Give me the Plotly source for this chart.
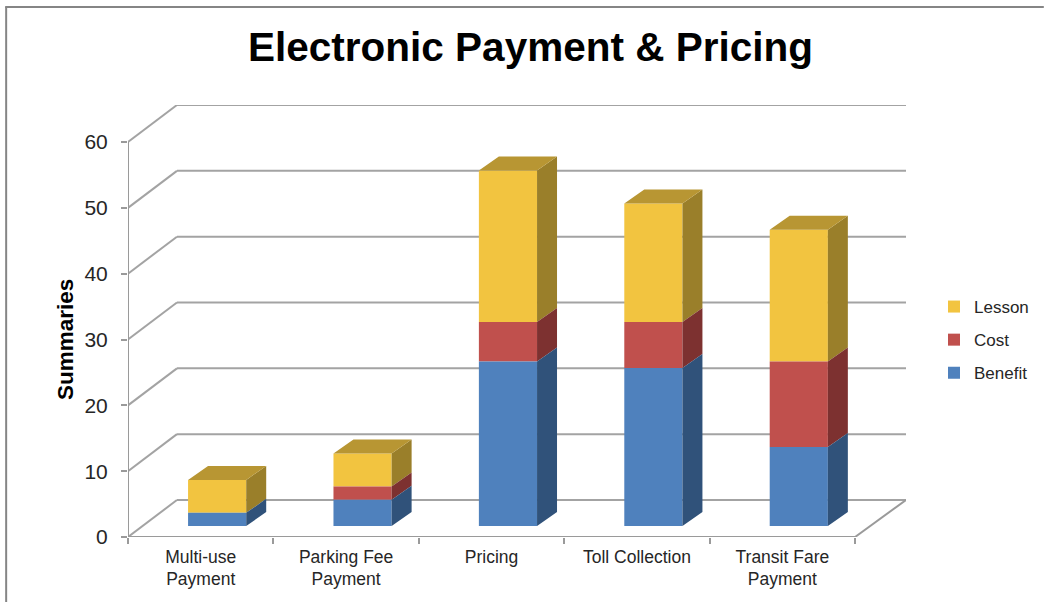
import plotly.graph_objects as go

categories = ["Multi-use<br>Payment", "Parking Fee<br>Payment", "Pricing", "Toll Collection", "Transit Fare<br>Payment"]
benefit = [2, 4, 25, 24, 12]
cost = [0, 2, 6, 7, 13]
lesson = [5, 5, 23, 18, 20]
y_ticks = [0, 10, 20, 30, 40, 50, 60]

FONT = "Liberation Sans, Arial, sans-serif"
W, H = 1045, 602
L, R, T, B = 128, 907, 105, 537       # plot box in page pixels
X_PX = 145.6                          # pixels per category
Y_PX = 6.583                          # pixels per value unit
x_max = (R - L) / X_PX
y_max = (B - T) / Y_PX

# oblique projection, in axis units
wall_dx, wall_dy = 49 / X_PX, 37 / Y_PX
bar_w = 0.4
front_dx, front_dy = 0.113, 11 / Y_PX
side_dx, side_dy = 20 / X_PX, 14 / Y_PX

n = len(categories)
centers = [i + 0.5 for i in range(n)]
bar_x = [c + front_dx for c in centers]

GRID = "#a3a3a3"
AXIS = "#9a9a9a"

shapes = []
def seg(x0, y0, x1, y1, color=GRID, width=2):
    shapes.append(dict(type="line", xref="x", yref="y", x0=x0, y0=y0, x1=x1, y1=y1,
                       layer="below", line=dict(color=color, width=width)))

for t in y_ticks:
    seg(0, t, wall_dx, t + wall_dy)
    seg(wall_dx, t + wall_dy, x_max, t + wall_dy)
seg(0, 0, 0, y_ticks[-1], AXIS)
seg(0, 0, n, 0, AXIS)
seg(n, 0, n + wall_dx * 1.04, wall_dy, AXIS)

def px_x(p): return (p - L) / (R - L)
def px_y(p): return (B - p) / (B - T)
frame = "#858585"
shapes.append(dict(type="line", xref="paper", yref="paper", x0=px_x(6), x1=px_x(6), y0=px_y(7), y1=px_y(602),
                   line=dict(color=frame, width=2)))
shapes.append(dict(type="line", xref="paper", yref="paper", x0=px_x(5), x1=px_x(1045), y0=px_y(7), y1=px_y(7),
                   line=dict(color=frame, width=2)))

series = [
    ("Lesson", lesson, "#f2c440", "#9a7f2a", "#b89633"),
    ("Cost", cost, "#c0504d", "#7d3130", None),
    ("Benefit", benefit, "#4f81bd", "#30527a", None),
]
bases = {}
run = [front_dy] * n
for name, vals, *_ in reversed(series):
    bases[name] = list(run)
    run = [r + v for r, v in zip(run, vals)]
tops = run

fig = go.Figure()

for name, vals, col, side, top in series:
    sx, sy = [], []
    for i in range(n):
        if vals[i] == 0:
            continue
        x1 = bar_x[i] + bar_w / 2
        y0, y1 = bases[name][i], bases[name][i] + vals[i]
        sx += [x1, x1 + side_dx, x1 + side_dx, x1, x1, None]
        sy += [y0, y0 + side_dy, y1 + side_dy, y1, y0, None]
    fig.add_trace(go.Scatter(x=sx, y=sy, mode="lines", fill="toself", fillcolor=side,
                             line=dict(width=0, color=side), showlegend=False, hoverinfo="skip"))
    if top:
        tx, ty = [], []
        for i in range(n):
            x0, x1 = bar_x[i] - bar_w / 2, bar_x[i] + bar_w / 2
            tx += [x0, x1, x1 + side_dx, x0 + side_dx, x0, None]
            ty += [tops[i], tops[i], tops[i] + side_dy, tops[i] + side_dy, tops[i], None]
        fig.add_trace(go.Scatter(x=tx, y=ty, mode="lines", fill="toself", fillcolor=top,
                                 line=dict(width=0, color=top), showlegend=False, hoverinfo="skip"))

for name, vals, col, side, top in series:
    fig.add_trace(go.Bar(name=name, x=bar_x, y=vals, base=bases[name], width=bar_w,
                         marker=dict(color=col, line=dict(width=0)), legendgroup=name))

fig.update_layout(
    width=W, height=H, autosize=False,
    margin=dict(l=L, r=W - R, t=T, b=H - B, pad=0),
    paper_bgcolor="white", plot_bgcolor="white",
    barmode="overlay", shapes=shapes,
    title=dict(text="<b>Electronic Payment &amp; Pricing</b>", x=530.5 / W, xanchor="center",
               y=1 - 47 / H, yanchor="middle", font=dict(family=FONT, size=40.5, color="black")),
    font=dict(family=FONT, color="#262626"),
    legend=dict(x=px_x(934), xanchor="left", y=px_y(289), yanchor="top",
                traceorder="grouped", tracegroupgap=8, font=dict(size=17, color="#262626"),
                bgcolor="rgba(0,0,0,0)", itemwidth=30),
    annotations=[dict(text="<b>Summaries</b>", xref="paper", yref="paper", x=px_x(65), y=px_y(340),
                      xanchor="center", yanchor="middle", textangle=-90, showarrow=False,
                      font=dict(family=FONT, size=22.5, color="black"))],
    xaxis=dict(range=[0, x_max], tickmode="array", tickvals=centers, ticktext=categories,
               ticks="", showgrid=False, zeroline=False, showline=False, fixedrange=True,
               tickfont=dict(size=17.5, color="#262626"), ticklabelstandoff=7,
               minor=dict(tickmode="array", tickvals=list(range(n + 1)), ticks="outside", ticklen=6,
                          tickwidth=2, tickcolor=AXIS, showgrid=False)),
    yaxis=dict(range=[0, y_max], tickmode="array", tickvals=y_ticks, ticks="outside", ticklen=6,
               tickwidth=2, tickcolor=AXIS, showgrid=False, zeroline=False, showline=False, fixedrange=True,
               tickfont=dict(size=21, color="#262626"), ticklabelstandoff=9),
)

fig.write_html("out.html", post_script="document.body.style.margin='0';",
               config=dict(displayModeBar=False))
